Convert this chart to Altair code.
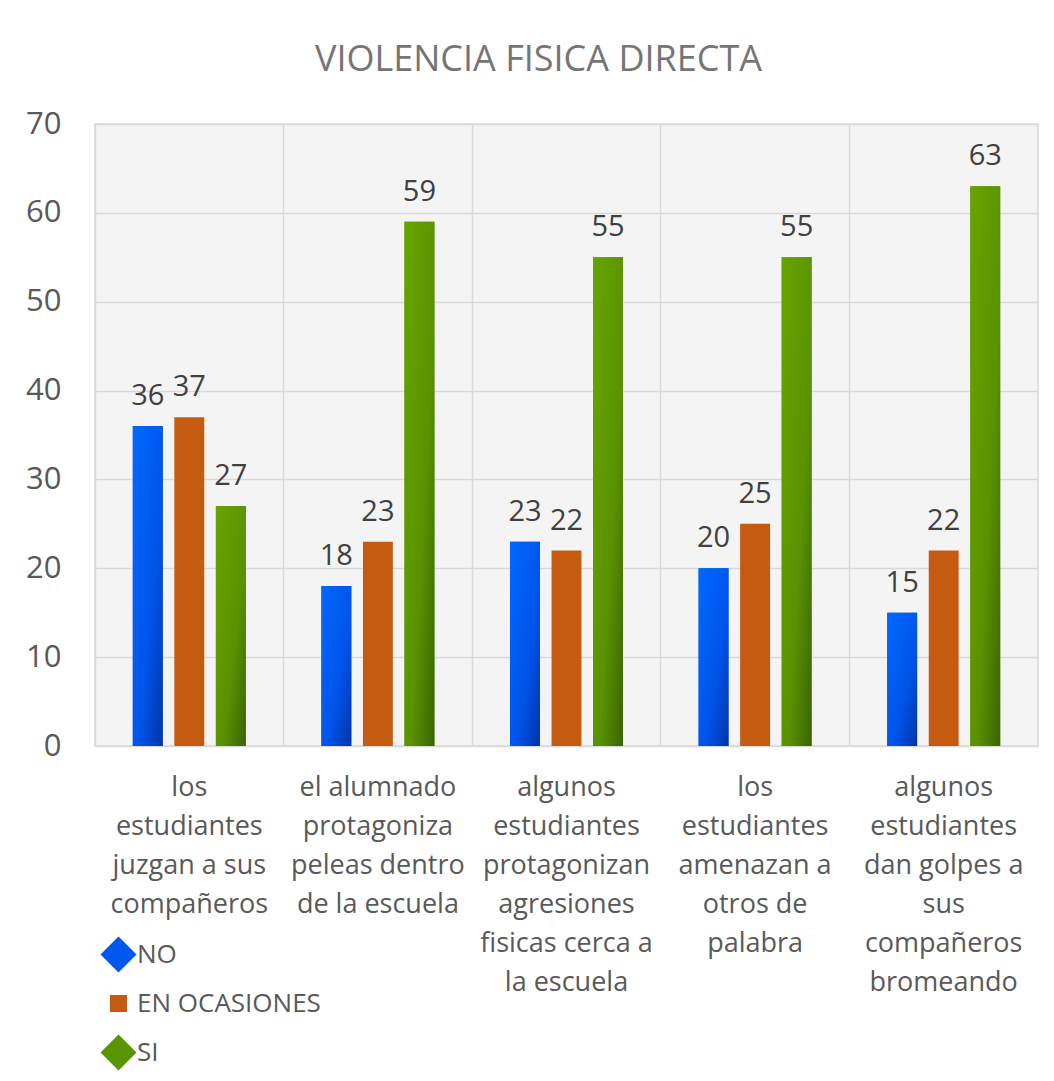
import altair as alt
import pandas as pd

categories = [
    "los estudiantes juzgan a sus compañeros",
    "el alumnado protagoniza peleas dentro de la escuela",
    "algunos estudiantes protagonizan agresiones fisicas cerca a la escuela",
    "los estudiantes amenazan a otros de palabra",
    "algunos estudiantes dan golpes a sus compañeros bromeando",
]
category_lines = [
    ["los", "estudiantes", "juzgan a sus", "compañeros"],
    ["el alumnado", "protagoniza", "peleas dentro", "de la escuela"],
    ["algunos", "estudiantes", "protagonizan", "agresiones", "fisicas cerca a", "la escuela"],
    ["los", "estudiantes", "amenazan a", "otros de", "palabra"],
    ["algunos", "estudiantes", "dan golpes a", "sus", "compañeros", "bromeando"],
]
series = ["NO", "EN OCASIONES", "SI"]
values_no = [36, 18, 23, 20, 15]
values_en = [37, 23, 22, 25, 22]
values_si = [27, 59, 55, 55, 63]
colors = ["#0058ee", "#c55a11", "#5a9400"]
legend_shapes = ["diamond", "square", "diamond"]
legend_sizes = [1300, 289, 1300]

rows = []
for i, c in enumerate(categories):
    for s, vals in zip(series, [values_no, values_en, values_si]):
        rows.append({"cat": c, "serie": s, "valor": vals[i]})
df = pd.DataFrame(rows)
lab_df = pd.DataFrame({"cat": categories, "texto": ["\n".join(l) for l in category_lines]})

FONT = "Open Sans"
GRID = "#d9d9d9"

x_enc = alt.X("cat:N", sort=categories,
              scale=alt.Scale(paddingInner=0, paddingOuter=0),
              axis=alt.Axis(title=None, labels=False, ticks=False, domain=False,
                            grid=True, gridColor=GRID, gridWidth=1.5, bandPosition=0))
xo_enc = alt.XOffset("serie:N", sort=series,
                     scale=alt.Scale(domain=series, paddingInner=0.28, paddingOuter=0.91))
y_enc = alt.Y("valor:Q",
              scale=alt.Scale(domain=[0, 70]),
              axis=alt.Axis(title=None, values=list(range(0, 71, 10)), ticks=False,
                            domain=False, grid=True, gridColor=GRID, gridWidth=1.5,
                            labelFont=FONT, labelFontSize=31, labelColor="#595959",
                            labelPadding=34))

leg = alt.Legend(title=None)

base = alt.Chart(df)
bars = base.mark_bar().encode(
    x=x_enc, xOffset=xo_enc, y=y_enc,
    color=alt.Color("serie:N", sort=series,
                    scale=alt.Scale(domain=series, range=colors), legend=leg),
)

# invisible points: they only supply the legend symbols' shape and size
legend_pts = base.mark_point(filled=True, opacity=0, strokeWidth=0).encode(
    x=x_enc, xOffset=xo_enc, y=alt.value(300),
    color=alt.Color("serie:N", sort=series,
                    scale=alt.Scale(domain=series, range=colors), legend=leg),
    shape=alt.Shape("serie:N", sort=series,
                    scale=alt.Scale(domain=series, range=legend_shapes), legend=leg),
    size=alt.Size("serie:N", sort=series,
                  scale=alt.Scale(type="ordinal", domain=series, range=legend_sizes),
                  legend=leg),
)

grad_no = alt.Gradient(gradient="linear", x1=0, y1=0, x2=1, y2=1,
                       stops=[alt.GradientStop(color="#0068ff", offset=0),
                              alt.GradientStop(color="#0054ea", offset=0.6),
                              alt.GradientStop(color="#0034a8", offset=1)])
grad_si = alt.Gradient(gradient="linear", x1=0, y1=0, x2=1, y2=1,
                       stops=[alt.GradientStop(color="#68a400", offset=0),
                              alt.GradientStop(color="#5a9200", offset=0.6),
                              alt.GradientStop(color="#3a6400", offset=1)])
over_no = base.transform_filter(alt.datum.serie == "NO").mark_bar(color=grad_no).encode(
    x=x_enc, xOffset=xo_enc, y=y_enc)
over_si = base.transform_filter(alt.datum.serie == "SI").mark_bar(color=grad_si).encode(
    x=x_enc, xOffset=xo_enc, y=y_enc)

text = base.mark_text(font=FONT, fontSize=29, color="#404040", baseline="alphabetic",
                      dy=-21).encode(x=x_enc, xOffset=xo_enc, y=y_enc, text="valor:Q")

cat_text = alt.Chart(lab_df).mark_text(
    font=FONT, fontSize=27, color="#595959", baseline="top", lineBreak="\n",
    lineHeight=39, align="center"
).encode(x=alt.X("cat:N", sort=categories), y=alt.value(651), text="texto:N")

chart = alt.layer(bars, over_no, over_si, text, cat_text, legend_pts).properties(
    width=943, height=622,
    autosize=alt.AutoSizeParams(type="none"),
    padding={"left": 87, "top": 116, "right": 6, "bottom": 325},
    background="white",
    title=alt.TitleParams("VIOLENCIA FISICA DIRECTA", font=FONT, fontSize=36,
                          fontWeight="normal", color="#757575", anchor="middle",
                          frame="group", dx=-28, offset=29),
).configure_view(fill="#f4f4f4", stroke=GRID, strokeWidth=1.5).configure_legend(
    orient="none", legendX=5, legendY=812, direction="vertical",
    labelFont=FONT, labelFontSize=26, labelColor="#595959", labelOffset=0,
    labelLimit=400, rowPadding=17.5, symbolStrokeWidth=0, symbolOpacity=1,
)

chart.save("out.html", embed_options={"renderer": "svg", "actions": False})
